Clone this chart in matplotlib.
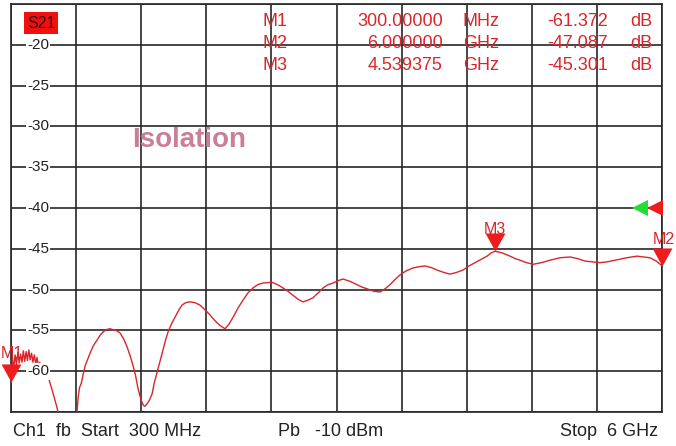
import matplotlib
matplotlib.use("Agg")
import matplotlib.pyplot as plt
import numpy as np
from matplotlib.path import Path

plt.rcParams['font.family'] = ['Liberation Sans', 'DejaVu Sans']

# ---- data ----
freq_ghz = [0.300, 0.312, 0.324, 0.336, 0.348, 0.360, 0.372, 0.384, 0.396, 0.408,
            0.420, 0.432, 0.444, 0.456, 0.468, 0.480, 0.492, 0.504, 0.516, 0.528,
            0.540, 0.552, 0.564, 0.576, 0.588, 0.600, 0.615, 0.630, 0.645, 0.660,
            0.676, 0.694, 0.712, 0.730, 0.760, 0.800, 0.840, 0.870, 0.878, 0.888,
            0.900, 0.915, 0.930, 0.950, 0.970, 0.992, 1.020, 1.053, 1.080, 1.106,
            1.135, 1.167, 1.190, 1.220, 1.254, 1.285, 1.316, 1.345, 1.368, 1.390,
            1.412, 1.440, 1.460, 1.473, 1.490, 1.510, 1.535, 1.555, 1.578, 1.605,
            1.631, 1.655, 1.675, 1.705, 1.736, 1.765, 1.797, 1.830, 1.867, 1.910,
            1.955, 2.000, 2.042, 2.085, 2.130, 2.174, 2.210, 2.244, 2.290, 2.331,
            2.375, 2.419, 2.460, 2.506, 2.585, 2.635, 2.682, 2.725, 2.769, 2.815,
            2.857, 2.900, 2.944, 2.990, 3.032, 3.075, 3.119, 3.165, 3.207, 3.270,
            3.329, 3.375, 3.417, 3.475, 3.531, 3.575, 3.618, 3.660, 3.706, 3.760,
            3.820, 3.870, 3.925, 3.980, 4.030, 4.090, 4.144, 4.200, 4.258, 4.310,
            4.363, 4.415, 4.468, 4.505, 4.539, 4.600, 4.669, 4.715, 4.757, 4.815,
            4.871, 4.945, 5.019, 5.105, 5.194, 5.260, 5.326, 5.390, 5.457, 5.520,
            5.589, 5.690, 5.782, 5.840, 5.895, 5.950, 6.000]
s21_db = [-61.37, -58.4, -59.6, -58.0, -59.2, -57.7, -59.0, -57.9, -58.9, -57.5,
          -58.8, -57.6, -58.7, -57.4, -58.6, -57.8, -58.9, -58.0, -59.1, -58.3,
          -59.4, -58.9, -59.8, -59.5, -60.2, -59.9, -60.6, -60.9, -61.6, -62.3,
          -63.1, -64.0, -65.0, -66.0, -67.5, -68.5, -67.0, -65.5, -65.0, -63.2,
          -62.0, -61.5, -60.5, -59.3, -58.6, -57.8, -56.9, -56.2, -55.6, -55.2,
          -54.9, -54.8, -54.9, -55.0, -55.3, -56.0, -57.0, -58.2, -59.3, -60.5,
          -62.1, -63.6, -64.2, -64.3, -64.0, -63.6, -62.8, -61.4, -60.2, -58.8,
          -57.4, -56.1, -55.2, -54.2, -53.4, -52.6, -51.9, -51.6, -51.5, -51.6,
          -51.9, -52.5, -53.1, -53.8, -54.4, -54.8, -54.2, -53.4, -52.2, -51.3,
          -50.4, -49.8, -49.4, -49.2, -49.1, -49.4, -49.8, -50.2, -50.7, -51.2,
          -51.5, -51.3, -51.0, -50.4, -49.8, -49.4, -49.2, -48.9, -48.7, -49.0,
          -49.4, -49.7, -49.9, -50.2, -50.3, -49.9, -49.4, -48.8, -48.2, -47.7,
          -47.35, -47.2, -47.1, -47.3, -47.6, -47.9, -48.1, -47.9, -47.6, -47.1,
          -46.7, -46.3, -45.9, -45.5, -45.3, -45.5, -45.9, -46.2, -46.4, -46.7,
          -46.9, -46.7, -46.4, -46.1, -46.0, -46.2, -46.5, -46.6, -46.7, -46.6,
          -46.4, -46.1, -45.9, -46.0, -46.1, -46.5, -47.09]

marker_names = ["M1", "M2", "M3"]
marker_freq_ghz = [0.300, 6.000, 4.539375]
marker_db = [-61.372, -47.087, -45.301]
marker_freq_text = ["300.00000", "6.000000", "4.539375"]
marker_unit_text = ["MHz", "GHz", "GHz"]
marker_db_text = ["-61.372", "-47.087", "-45.301"]

ytick_vals = [-20, -25, -30, -35, -40, -45, -50, -55, -60]
ref_level_db = -40

# ---- figure ----
W, H = 676, 446
fig = plt.figure(figsize=(W / 100, H / 100), dpi=100)
fig.patch.set_facecolor('white')
ax = fig.add_axes([11 / W, (H - 412) / H, 651 / W, 408 / H])
ax.set_xlim(0.3, 6.0)
ax.set_ylim(-65, -15)
ax.set_xticks(np.linspace(0.3, 6.0, 11))
ax.set_yticks(np.arange(-65, -14, 5))
ax.tick_params(length=0, labelbottom=False, labelleft=False)
ax.grid(True, color='#262626', linewidth=1.2)
ax.set_axisbelow(True)
for s in ax.spines.values():
    s.set_color('#262626')
    s.set_linewidth(1.2)

trace_color = '#d8262b'
ax.plot(freq_ghz, s21_db, color=trace_color, linewidth=1.0, zorder=3)

# y labels inside plot with white background
ytr = ax.get_yaxis_transform()
for v in ytick_vals:
    ax.text((38 - 11) / 651, v, f"{v}", transform=ytr, ha='center', va='center',
            fontsize=11, color='#222222', zorder=4,
            bbox=dict(facecolor='white', edgecolor='none', pad=1.0))

# marker triangles (tip at point)
tri = Path([(-0.55, 1.0), (0.55, 1.0), (0.0, 0.0), (-0.55, 1.0)],
           [Path.MOVETO, Path.LINETO, Path.LINETO, Path.CLOSEPOLY])
for name, f, d in zip(marker_names, marker_freq_ghz, marker_db):
    ax.plot([f], [d], marker=tri, markersize=26, color='#ee1c1c',
            markeredgewidth=0, clip_on=False, zorder=5)


def fx(px):
    return px / W


def fy(py):
    return 1 - py / H


# marker labels
fig.text(fx(1), fy(353), "M1", ha='left', va='center', fontsize=11.5,
         color='#d8262b', zorder=6)
ax.text(4.539375, -42.6, "M3", ha='center', va='center', fontsize=11.5,
        color='#d8262b', zorder=5)
fig.text(fx(675), fy(240), "M2", ha='right', va='center', fontsize=11.5,
         color='#d8262b', zorder=6)

# reference level markers at right
ax.plot([(654.5 - 11) / 651], [ref_level_db], marker='<', markersize=11,
        color='#ee1c1c', markeredgewidth=0, transform=ax.get_yaxis_transform(),
        clip_on=False, zorder=5)
ax.plot([(640 - 11) / 651], [ref_level_db], marker='<', markersize=11,
        color='#22dd33', markeredgewidth=0, transform=ax.get_yaxis_transform(),
        clip_on=False, zorder=5)

# marker table at top
row_y = [21, 43, 66]
tcol = '#d8262b'
fs_tab = 13
for i in range(3):
    fig.text(fx(263), fy(row_y[i]), marker_names[i], ha='left', va='center',
             fontsize=fs_tab, color=tcol)
    fig.text(fx(443), fy(row_y[i]), marker_freq_text[i], ha='right', va='center',
             fontsize=fs_tab, color=tcol)
    fig.text(fx(463), fy(row_y[i]), marker_unit_text[i], ha='left', va='center',
             fontsize=fs_tab, color=tcol)
    fig.text(fx(608), fy(row_y[i]), marker_db_text[i], ha='right', va='center',
             fontsize=fs_tab, color=tcol)
    fig.text(fx(630), fy(row_y[i]), "dB", ha='left', va='center',
             fontsize=fs_tab, color=tcol)

# S21 trace label
fig.text(fx(41), fy(23), "S21", ha='center', va='center', fontsize=11.5,
         color='#3a0a0a',
         bbox=dict(facecolor='#f01010', edgecolor='none', pad=2.2))

# title inside plot
fig.text(fx(132), fy(140), "Isolation", ha='left', va='center', fontsize=20,
         fontweight='bold', color='#c97f98')

# bottom status line
fs_bot = 13
fig.text(fx(13), fy(432), "Ch1  fb  Start  300 MHz", ha='left', va='center',
         fontsize=fs_bot, color='#222222')
fig.text(fx(278), fy(432), "Pb   -10 dBm", ha='left', va='center',
         fontsize=fs_bot, color='#222222')
fig.text(fx(658), fy(432), "Stop  6 GHz", ha='right', va='center',
         fontsize=fs_bot, color='#222222')

fig.savefig("out.png", dpi=100, facecolor='white')
